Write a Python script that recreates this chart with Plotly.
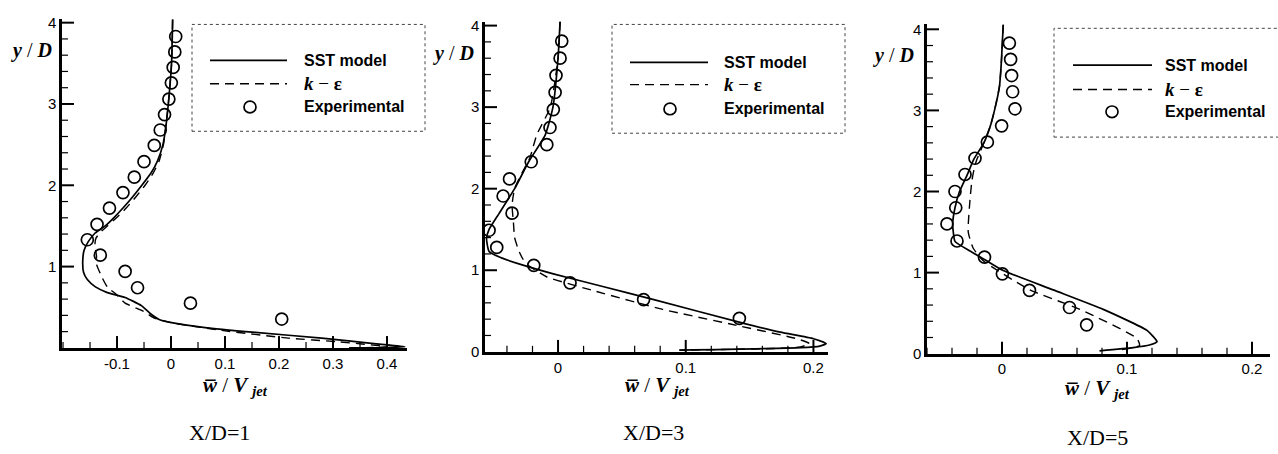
import plotly.graph_objects as go

W, H = 1278, 454

# ---------------- data ----------------
# Panel X/D=1
p1_sst_x = [0.003, 0.001, -0.005, -0.010, -0.015, -0.025, -0.037, -0.054, -0.072, -0.089, -0.106, -0.122, -0.141, -0.153, -0.161, -0.1635, -0.162, -0.155, -0.14, -0.118, -0.085, -0.055, -0.038, -0.022, 0.001, 0.063, 0.156, 0.279, 0.38, 0.433, 0.40, 0.33]
p1_sst_y = [4.04, 3.5, 3.0, 2.7, 2.5, 2.3, 2.15, 2.0, 1.85, 1.72, 1.6, 1.5, 1.41, 1.31, 1.2, 1.07, 0.93, 0.84, 0.75, 0.68, 0.62, 0.52, 0.42, 0.35, 0.31, 0.25, 0.19, 0.12, 0.05, 0.015, 0.005, 0.0]
p1_ke_x = [0.003, 0.001, -0.005, -0.010, -0.014, -0.022, -0.033, -0.048, -0.066, -0.083, -0.101, -0.118, -0.131, -0.139, -0.141, -0.138, -0.138, -0.128, -0.118, -0.10, -0.085, -0.051, -0.032, 0.0, 0.094, 0.217, 0.31, 0.40, 0.38, 0.33]
p1_ke_y = [4.04, 3.5, 3.0, 2.7, 2.5, 2.3, 2.15, 2.0, 1.85, 1.72, 1.6, 1.5, 1.42, 1.35, 1.27, 1.13, 1.03, 0.87, 0.75, 0.65, 0.55, 0.45, 0.37, 0.31, 0.215, 0.12, 0.075, 0.015, 0.005, 0.0]
p1_exp_x = [0.0087, 0.007, 0.004, 0.0006, -0.004, -0.012, -0.020, -0.031, -0.050, -0.068, -0.089, -0.114, -0.137, -0.155, -0.131, -0.085, -0.062, 0.036, 0.205]
p1_exp_y = [3.83, 3.64, 3.45, 3.26, 3.06, 2.87, 2.68, 2.49, 2.29, 2.10, 1.91, 1.72, 1.52, 1.33, 1.14, 0.94, 0.74, 0.55, 0.355]

# Panel X/D=3
p2_sst_x = [0.0016, 0.0, -0.004, -0.010, -0.023, -0.034, -0.046, -0.054, -0.056, -0.054, -0.045, -0.030, -0.0037, 0.035, 0.075, 0.1425, 0.174, 0.200, 0.210, 0.205, 0.19, 0.095]
p2_sst_y = [4.05, 3.6, 3.0, 2.66, 2.33, 2.0, 1.7, 1.5, 1.39, 1.23, 1.155, 1.075, 0.956, 0.80, 0.64, 0.36, 0.24, 0.16, 0.10, 0.07, 0.05, 0.02]
p2_ke_x = [0.0016, 0.0, -0.006, -0.0167, -0.022, -0.028, -0.034, -0.036, -0.035, -0.034, -0.031, -0.028, -0.0245, -0.009, 0.030, 0.082, 0.135, 0.187, 0.197, 0.19, 0.17, 0.095]
p2_ke_y = [4.05, 3.6, 3.0, 2.66, 2.38, 2.2, 2.0, 1.8, 1.6, 1.4, 1.25, 1.15, 1.075, 0.92, 0.74, 0.52, 0.34, 0.16, 0.10, 0.06, 0.04, 0.02]
p2_exp_x = [0.0029, 0.0016, -0.0016, -0.0023, -0.0037, -0.0063, -0.0088, -0.021, -0.038, -0.043, -0.036, -0.054, -0.048, -0.019, 0.0094, 0.067, 0.142]
p2_exp_y = [3.81, 3.60, 3.39, 3.18, 2.97, 2.75, 2.54, 2.33, 2.12, 1.91, 1.70, 1.49, 1.28, 1.06, 0.845, 0.64, 0.41]

# Panel X/D=5
p3_sst_x = [0.001, -0.0005, -0.002, -0.006, -0.0095, -0.0145, -0.0225, -0.028, -0.034, -0.0376, -0.0395, -0.039, -0.0376, -0.0256, -0.0123, 0.001, 0.041, 0.081, 0.116, 0.124, 0.118, 0.105, 0.078]
p3_sst_y = [4.06, 3.6, 3.3, 3.0, 2.8, 2.6, 2.4, 2.2, 2.0, 1.8, 1.6, 1.505, 1.385, 1.266, 1.146, 1.026, 0.787, 0.547, 0.287, 0.147, 0.108, 0.076, 0.036]
p3_ke_x = [0.001, -0.0005, -0.002, -0.006, -0.0095, -0.0145, -0.020, -0.022, -0.024, -0.0256, -0.027, -0.023, -0.015, 0.0224, 0.0624, 0.108, 0.11, 0.095]
p3_ke_y = [4.06, 3.6, 3.3, 3.0, 2.8, 2.6, 2.4, 2.3, 2.14, 1.9, 1.5, 1.3, 1.146, 0.787, 0.547, 0.188, 0.10, 0.048]
p3_exp_x = [0.0059, 0.0069, 0.0077, 0.0085, 0.0104, -0.0003, -0.0117, -0.0216, -0.0296, -0.0376, -0.037, -0.044, -0.036, -0.014, 0.0003, 0.022, 0.054, 0.0677]
p3_exp_y = [3.83, 3.63, 3.43, 3.23, 3.02, 2.81, 2.61, 2.41, 2.21, 2.00, 1.80, 1.60, 1.39, 1.19, 0.985, 0.78, 0.57, 0.356]

captions = ["X/D=1", "X/D=3", "X/D=5"]
legend_labels = ["SST model", "<i>k</i> − ε", "Experimental"]

p1_xticks = [-0.1, 0, 0.1, 0.2, 0.3, 0.4]
p1_xticktext = ["-0.1", "0", "0.1", "0.2", "0.3", "0.4"]
p23_xticks = [0, 0.1, 0.2]
p23_xticktext = ["0", "0.1", "0.2"]
p1_yticks = [1, 2, 3, 4]
p23_yticks = [0, 1, 2, 3, 4]
y_major_marks = [1, 2, 3, 4]

# ---------------- helpers ----------------
def px(x):
    return x / W

def py(y):
    return 1 - y / H

def minor_vals(lo, hi, step):
    n0 = int(round(lo / step)) - 1
    n1 = int(round(hi / step)) + 1
    return [round(k * step, 6) for k in range(n0, n1 + 1) if lo <= k * step <= hi]

panels = [
    dict(sx=p1_sst_x, sy=p1_sst_y, kx=p1_ke_x, ky=p1_ke_y, ex=p1_exp_x, ey=p1_exp_y,
         xdom=(62, 407), ydom=(353, 14), xr=(-0.2019, 0.437), yr=(0, 4.05),
         xt=p1_xticks, xtt=p1_xticktext, yt=p1_yticks, xminor=0.05,
         leg=dict(box=(192, 20, 425, 130), l0=210, l1=287, ys=(57, 81, 105), cx=250, tx=302),
         ylab=(31, 47), xlab=(235, 392), cap=(220, 440)),
    dict(sx=p2_sst_x, sy=p2_sst_y, kx=p2_ke_x, ky=p2_ke_y, ex=p2_exp_x, ey=p2_exp_y,
         xdom=(485, 828), ydom=(357, 17), xr=(-0.0572, 0.2114), yr=(0, 4.05),
         xt=p23_xticks, xtt=p23_xticktext, yt=p23_yticks, xminor=0.02,
         leg=dict(box=(612, 20, 845, 132), l0=630, l1=708, ys=(59, 82, 107), cx=670, tx=722),
         ylab=(453, 50), xlab=(657, 392), cap=(653, 440)),
    dict(sx=p3_sst_x, sy=p3_sst_y, kx=p3_ke_x, ky=p3_ke_y, ex=p3_exp_x, ey=p3_exp_y,
         xdom=(927, 1270), ydom=(359, 20), xr=(-0.06, 0.2144), yr=(0, 4.06),
         xt=p23_xticks, xtt=p23_xticktext, yt=p23_yticks, xminor=0.02,
         leg=dict(box=(1054, 24, 1285, 136), l0=1073, l1=1152, ys=(62, 87, 110), cx=1112, tx=1163),
         ylab=(893, 52), xlab=(1097, 395), cap=(1097, 445)),
]

fig = go.Figure()
shapes = []
annotations = []
layout = dict(
    width=W, height=H, margin=dict(l=0, r=0, t=0, b=0),
    paper_bgcolor="white", plot_bgcolor="white", showlegend=False,
)

tickfont = dict(family="Liberation Sans, Arial", size=15, color="black")
DASH = "9px,6px"
MAJOR_LEN, MINOR_LEN = 10, 5

def tick_markers(xa, ya, xs, ys, symbol, size, width):
    return go.Scatter(x=xs, y=ys, mode="markers", hoverinfo="skip", showlegend=False,
                      cliponaxis=False,
                      marker=dict(symbol=symbol, size=size, color="black",
                                  line=dict(color="black", width=width)),
                      xaxis=xa, yaxis=ya)

for i, p in enumerate(panels, start=1):
    xa = "x" if i == 1 else f"x{i}"
    ya = "y" if i == 1 else f"y{i}"
    fig.add_trace(go.Scatter(x=p["sx"], y=p["sy"], mode="lines", name="SST model",
                             line=dict(color="black", width=1.7, shape="spline", smoothing=0.5),
                             xaxis=xa, yaxis=ya))
    fig.add_trace(go.Scatter(x=p["kx"], y=p["ky"], mode="lines", name="k-ε",
                             line=dict(color="black", width=1.4, dash=DASH, shape="spline", smoothing=0.5),
                             xaxis=xa, yaxis=ya))
    fig.add_trace(go.Scatter(x=p["ex"], y=p["ey"], mode="markers", name="Experimental",
                             marker=dict(symbol="circle-open", size=12, color="black",
                                         line=dict(width=1.7, color="black")),
                             xaxis=xa, yaxis=ya))
    xkey = "xaxis" if i == 1 else f"xaxis{i}"
    ykey = "yaxis" if i == 1 else f"yaxis{i}"
    layout[xkey] = dict(
        domain=[px(p["xdom"][0]), px(p["xdom"][1])], range=list(p["xr"]),
        anchor=ya, showgrid=False, zeroline=False, showline=True, linecolor="black",
        linewidth=2.5, ticks="", tickmode="array", tickvals=p["xt"], ticktext=p["xtt"],
        tickfont=tickfont,
    )
    layout[ykey] = dict(
        domain=[py(p["ydom"][0]), py(p["ydom"][1])], range=list(p["yr"]),
        anchor=xa, showgrid=False, zeroline=False, showline=True, linecolor="black",
        linewidth=2.5, ticks="", tickmode="array", tickvals=p["yt"], tickfont=tickfont,
    )
    # inside tick marks as line-shaped markers centred half a tick length inside the axes
    xscale = (p["xdom"][1] - p["xdom"][0]) / (p["xr"][1] - p["xr"][0])
    yscale = (p["ydom"][0] - p["ydom"][1]) / (p["yr"][1] - p["yr"][0])
    xminor_vals = [v for v in minor_vals(p["xr"][0], p["xr"][1], p["xminor"])
                   if all(abs(v - t) > 1e-6 for t in p["xt"])]
    yminor_vals = [v for v in minor_vals(p["yr"][0], p["yr"][1], 0.2)
                   if all(abs(v - t) > 1e-6 for t in [0, 1, 2, 3, 4])]
    y0, x0 = p["yr"][0], p["xr"][0]
    for vals, ln, wd in ((p["xt"], MAJOR_LEN, 2.0), (xminor_vals, MINOR_LEN, 1.2)):
        fig.add_trace(tick_markers(xa, ya, vals, [y0 + (ln / 2) / yscale] * len(vals),
                                   "line-ns", ln, wd))
    for vals, ln, wd in ((y_major_marks, MAJOR_LEN, 2.0), (yminor_vals, MINOR_LEN, 1.2)):
        fig.add_trace(tick_markers(xa, ya, [x0 + (ln / 2) / xscale] * len(vals), vals,
                                   "line-ew", ln, wd))
    # legend box
    lg = p["leg"]
    bx0, by0, bx1, by1 = lg["box"]
    shapes.append(dict(type="rect", xref="paper", yref="paper",
                       x0=px(bx0), x1=px(bx1), y0=py(by1), y1=py(by0),
                       line=dict(color="#444", width=1, dash="dot")))
    shapes.append(dict(type="line", xref="paper", yref="paper",
                       x0=px(lg["l0"]), x1=px(lg["l1"]), y0=py(lg["ys"][0]), y1=py(lg["ys"][0]),
                       line=dict(color="black", width=1.7)))
    shapes.append(dict(type="line", xref="paper", yref="paper",
                       x0=px(lg["l0"]), x1=px(lg["l1"]), y0=py(lg["ys"][1]), y1=py(lg["ys"][1]),
                       line=dict(color="black", width=1.4, dash=DASH)))
    shapes.append(dict(type="circle", xref="paper", yref="paper",
                       x0=px(lg["cx"] - 6), x1=px(lg["cx"] + 6),
                       y0=py(lg["ys"][2] + 6), y1=py(lg["ys"][2] - 6),
                       line=dict(color="black", width=1.7)))
    for j, lab in enumerate(legend_labels):
        if j == 1:
            txt = "<b><i>k</i></b> − <b>ε</b>"
            fnt = dict(family="Liberation Serif, Times New Roman", size=19, color="black")
        else:
            txt = f"<b>{lab}</b>"
            fnt = dict(family="Liberation Sans, Arial", size=16, color="black")
        annotations.append(dict(text=txt, xref="paper", yref="paper",
                                x=px(lg["tx"]), y=py(lg["ys"][j]), xanchor="left", yanchor="middle",
                                showarrow=False, font=fnt))
    annotations.append(dict(text="<b><i>y</i></b> / <b><i>D</i></b>", xref="paper", yref="paper",
                            x=px(p["ylab"][0]), y=py(p["ylab"][1]), xanchor="center", yanchor="middle",
                            showarrow=False,
                            font=dict(family="Liberation Serif, Times New Roman", size=20, color="black")))
    annotations.append(dict(text="<b><i>w\u0305</i></b> / <b><i>V <sub>jet</sub></i></b>", xref="paper", yref="paper",
                            x=px(p["xlab"][0]), y=py(p["xlab"][1]), xanchor="center", yanchor="middle",
                            showarrow=False,
                            font=dict(family="Liberation Serif, Times New Roman", size=21, color="black")))
    annotations.append(dict(text=captions[i - 1], xref="paper", yref="paper",
                            x=px(p["cap"][0]), y=py(p["cap"][1]), xanchor="center", yanchor="middle",
                            showarrow=False,
                            font=dict(family="Liberation Serif, Times New Roman", size=22, color="black")))

layout["shapes"] = shapes
layout["annotations"] = annotations
fig.update_layout(**layout)
fig.write_html("out.html")
